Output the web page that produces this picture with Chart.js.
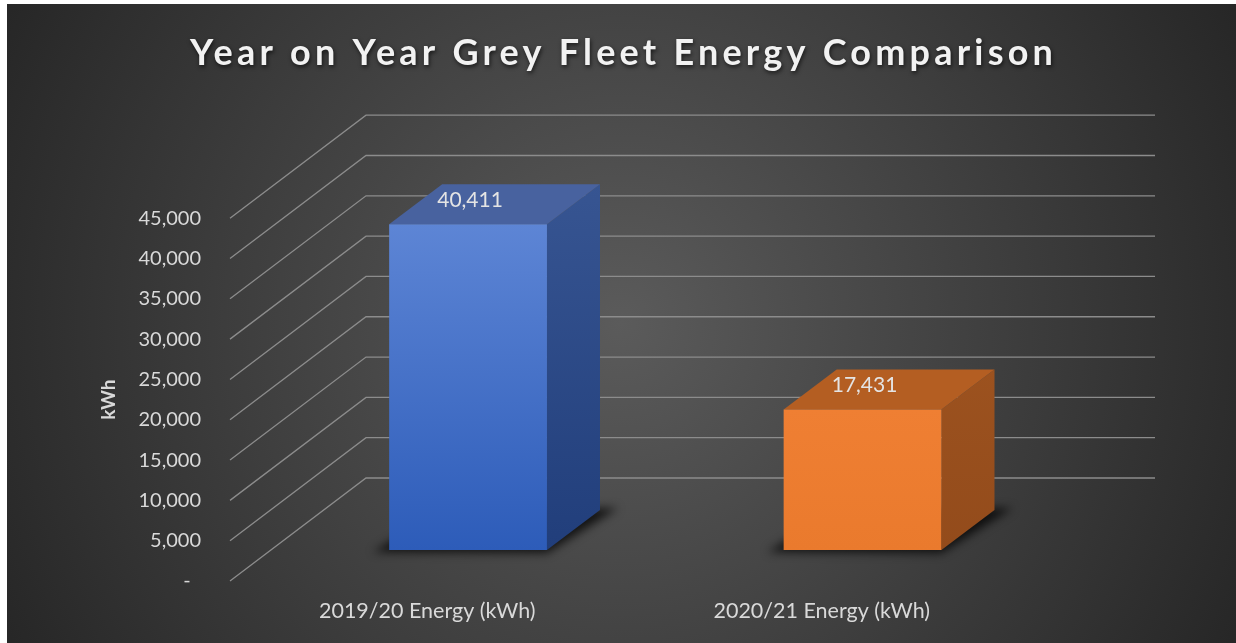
<!DOCTYPE html>
<html>
<head>
<meta charset="utf-8">
<script src="https://cdn.jsdelivr.net/npm/chart.js@4"></script>
<style>
  html, body { margin: 0; padding: 0; background: #ffffff; overflow: hidden; }
  #c { display: block; }
</style>
</head>
<body>
<canvas id="c" width="1236" height="643" style="width:1236px;height:643px"></canvas>
<script>
// ---------- data ----------
const categories = ['2019/20 Energy (kWh)', '2020/21 Energy (kWh)'];
const energyKWh = [40411, 17431];
const yTickMin = 0;
const yTickMax = 45000;
const yTickStep = 5000;
const zeroTickLabel = '-  ';
const chartTitle = 'Year on Year Grey Fleet Energy Comparison';
const yAxisTitle = 'kWh';

// ---------- styles ----------
const DEPTH = { dx: 136, dy: -103, barFront: 0.30, barBack: 0.69 };
const BAR_STYLES = [
  { frontTop: '#5d85d5', frontBottom: '#2d5cb9', top: '#48629f', sideTop: '#375592', sideBottom: '#213e7b' },
  { frontTop: '#ef7f33', frontBottom: '#ea7a2d', top: '#b45e22', sideTop: '#9c521f', sideBottom: '#934b1b' }
];
const TEXT_COLOR = '#d9d9d9';
const FONT = 'Lato';
const TITLE_WIDTH = 863;

const background = {
  id: 'background',
  beforeDraw(chart) {
    const { ctx, width, height } = chart;
    ctx.save();
    ctx.fillStyle = '#ffffff';
    ctx.fillRect(0, 0, width, height);
    const cx = 621, cy = 323;
    const g = ctx.createRadialGradient(cx, cy, 0, cx, cy, 700);
    g.addColorStop(0, '#5b5b5b');
    g.addColorStop(1, '#262626');
    ctx.fillStyle = g;
    ctx.fillRect(7, 4, width - 7, height - 4);
    ctx.restore();
    // style the title block (letter spacing, centring on the panel, shadow)
    const tb = chart.titleBlock;
    if (tb && !tb._styled) {
      const orig = tb.draw;
      tb.draw = function (area) {
        const c = this.ctx;
        c.save();
        c.font = 'bold 36px ' + FONT;
        c.letterSpacing = '0px';
        const w = c.measureText(chartTitle).width;
        const ls = Math.max(0, (TITLE_WIDTH - w) / (chartTitle.length - 1));
        c.letterSpacing = ls.toFixed(2) + 'px';
        c.translate((7 + chart.width) / 2 - (this.left + this.right) / 2 + ls / 2, 0);
        c.shadowColor = 'rgba(0,0,0,0.65)';
        c.shadowBlur = 4;
        c.shadowOffsetX = 1;
        c.shadowOffsetY = 2;
        orig.call(this, area);
        c.restore();
      };
      tb._styled = true;
    }
  }
};

const threeD = {
  id: 'threeD',
  beforeDatasetsDraw(chart) {
    const { ctx, chartArea: a, scales: { y } } = chart;
    const right = a.right + DEPTH.dx;
    ctx.save();
    ctx.strokeStyle = '#8c8c8c';
    ctx.lineWidth = 1.3;
    y.ticks.forEach(t => {
      const py = y.getPixelForValue(t.value);
      ctx.beginPath();
      ctx.moveTo(a.left, py);
      ctx.lineTo(a.left + DEPTH.dx, py + DEPTH.dy);
      ctx.lineTo(right, py + DEPTH.dy);
      ctx.stroke();
    });
    ctx.restore();
  },
  afterDatasetsDraw(chart) {
    const ctx = chart.ctx;
    const meta = chart.getDatasetMeta(0);
    const ds = chart.data.datasets[0];
    meta.data.forEach((bar, i) => {
      const { x, y, base, width } = bar.getProps(['x', 'y', 'base', 'width'], true);
      const st = BAR_STYLES[i % BAR_STYLES.length];
      const l = x - width / 2, r = x + width / 2;
      const P = (px, py, d) => [px + d * DEPTH.dx, py + d * DEPTH.dy];
      const f = DEPTH.barFront, b = DEPTH.barBack;
      const fTL = P(l, y, f), fTR = P(r, y, f), fBL = P(l, base, f), fBR = P(r, base, f);
      const bTL = P(l, y, b), bTR = P(r, y, b), bBR = P(r, base, b), bBL = P(l, base, b);
      const poly = (pts, fill) => {
        ctx.beginPath();
        ctx.moveTo(pts[0][0], pts[0][1]);
        for (let k = 1; k < pts.length; k++) ctx.lineTo(pts[k][0], pts[k][1]);
        ctx.closePath();
        ctx.fillStyle = fill;
        ctx.fill();
      };
      ctx.save();
      // soft floor shadow
      ctx.save();
      ctx.filter = 'blur(5px)';
      poly([[fBL[0] - 16, fBL[1] + 2], [fBR[0], fBR[1] + 3], [bBR[0] + 18, bBR[1] - 2], [bBL[0], bBL[1]]], 'rgba(0,0,0,0.75)');
      ctx.restore();
      // side face
      let g = ctx.createLinearGradient(0, bTR[1], 0, fBR[1]);
      g.addColorStop(0, st.sideTop);
      g.addColorStop(1, st.sideBottom);
      poly([fTR, bTR, bBR, fBR], g);
      // top face
      poly([fTL, bTL, bTR, fTR], st.top);
      // front face
      g = ctx.createLinearGradient(0, fTL[1], 0, fBL[1]);
      g.addColorStop(0, st.frontTop);
      g.addColorStop(1, st.frontBottom);
      poly([fTL, fTR, fBR, fBL], g);
      // value label
      ctx.font = '21px ' + FONT;
      ctx.fillStyle = '#e4e4e4';
      ctx.textAlign = 'center';
      ctx.textBaseline = 'middle';
      ctx.fillText(ds.data[i].toLocaleString('en-US'), (fTL[0] + fTR[0]) / 2 + 2, fTL[1] - 24);
      ctx.restore();
    });
  }
};

new Chart(document.getElementById('c'), {
  type: 'bar',
  data: {
    labels: categories,
    datasets: [{
      label: 'Energy (kWh)',
      data: energyKWh,
      backgroundColor: 'rgba(0,0,0,0)',
      borderWidth: 0,
      barPercentage: 0.4,
      categoryPercentage: 1.0
    }]
  },
  options: {
    responsive: false,
    devicePixelRatio: 1,
    animation: false,
    layout: { padding: { left: 97, right: 217, top: 0, bottom: 20 } },
    plugins: {
      legend: { display: false },
      tooltip: { enabled: false },
      title: {
        display: true,
        text: chartTitle,
        color: '#f2f2f2',
        font: { family: FONT, size: 36, weight: 'bold' },
        padding: { top: 32, bottom: 143 }
      }
    },
    scales: {
      x: {
        grid: { display: false },
        border: { display: false },
        ticks: { color: TEXT_COLOR, font: { family: FONT, size: 21.5 }, padding: 9, maxRotation: 0 },
        afterFit(scale) { scale.height = 42; }
      },
      y: {
        min: yTickMin,
        max: yTickMax,
        grid: { display: false },
        border: { display: false },
        ticks: {
          stepSize: yTickStep,
          color: TEXT_COLOR,
          font: { family: FONT, size: 20 },
          padding: 21,
          callback: v => v === 0 ? zeroTickLabel : Number(v).toLocaleString('en-US')
        },
        title: {
          display: true,
          text: yAxisTitle,
          color: TEXT_COLOR,
          font: { family: FONT, size: 19, weight: 'bold' },
          padding: 0
        },
        afterFit(scale) { scale.width = 133; }
      }
    }
  },
  plugins: [background, threeD]
});
</script>
</body>
</html>
